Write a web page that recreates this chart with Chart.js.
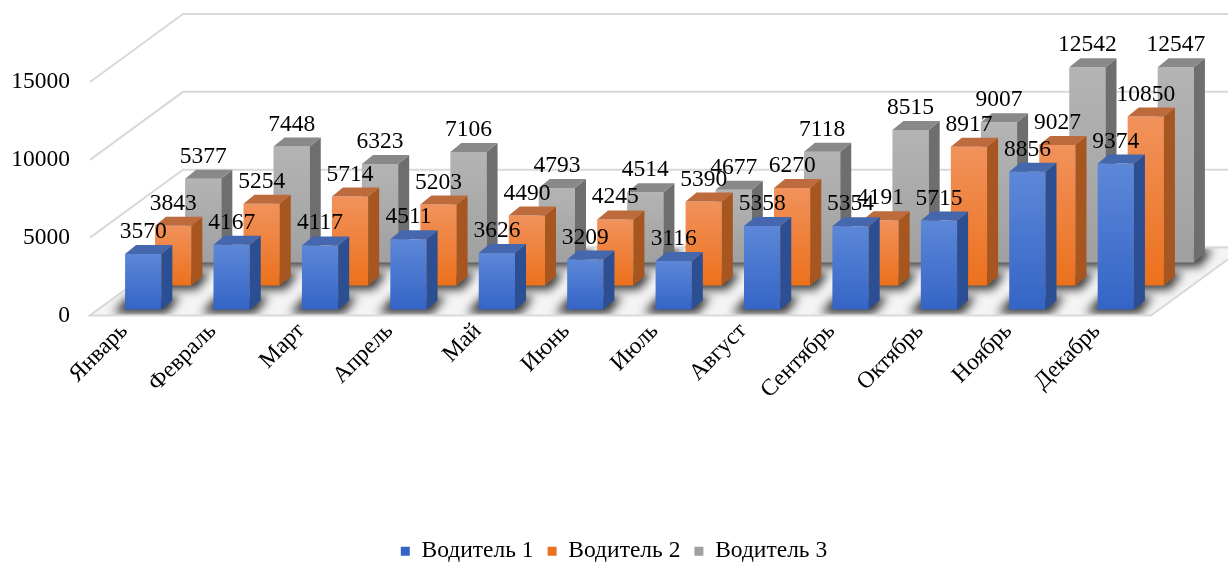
<!DOCTYPE html>
<html>
<head>
<meta charset="utf-8">
<script src="https://cdn.jsdelivr.net/npm/chart.js@4.4.1/dist/chart.umd.min.js"></script>
<style>
  html, body { margin: 0; padding: 0; background: #fff; }
  #wrap { width: 1228px; height: 563px; }
</style>
</head>
<body>
<div id="wrap"><canvas id="c"></canvas></div>
<script>
const months  = ['Январь', 'Февраль', 'Март', 'Апрель', 'Май', 'Июнь', 'Июль', 'Август', 'Сентябрь', 'Октябрь', 'Ноябрь', 'Декабрь']
const driver1 = [3570, 4167, 4117, 4511, 3626, 3209, 3116, 5358, 5354, 5715, 8856, 9374]
const driver2 = [3843, 5254, 5714, 5203, 4490, 4245, 5390, 6270, 4191, 8917, 9027, 10850]
const driver3 = [5377, 7448, 6323, 7106, 4793, 4514, 4677, 7118, 8515, 9007, 12542, 12547]
const seriesNames = ['Водитель 1', 'Водитель 2', 'Водитель 3']
const yTicks = [0, 5000, 10000, 15000]

// ── 3d look ─────────────────────────────────────────────────
const FACE = [
  { top: '#5d88d8', bot: '#3464c6', side: '#2c4e93', cap: '#4467ad', key: '#4472c4' },
  { top: '#f1925c', bot: '#ec711c', side: '#a7561f', cap: '#bd6a3c', key: '#ed7d31' },
  { top: '#b4b4b4', bot: '#a0a0a0', side: '#6e6e6e', cap: '#898989', key: '#a5a5a5' },
]
const SHIFT = [[9, -6], [39, -30], [69, -53]]   // row offset into depth
const DEPTH = [11, -9]                            // bar's own depth
const WALL  = [93, -68]                           // floor / wall depth
const SERIF = "'Liberation Serif', 'Times New Roman', serif"
const FS    = 23.5

function faceFill(i) {
  return c => {
    const f = FACE[i]
    if (c.type !== 'data' || !c.chart.chartArea) return f.key
    const ys  = c.chart.scales.y
    const top = ys.getPixelForValue(c.raw), bot = ys.getPixelForValue(0)
    const g = c.chart.ctx.createLinearGradient(0, top, 0, bot)
    g.addColorStop(0, f.top)
    g.addColorStop(1, f.bot)
    return g
  }
}

function poly(ctx, pts) {
  ctx.beginPath()
  ctx.moveTo(pts[0][0], pts[0][1])
  for (let k = 1; k < pts.length; k++) ctx.lineTo(pts[k][0], pts[k][1])
  ctx.closePath()
}

const room = {
  id: 'room',
  beforeDatasetsDraw(chart) {
    const { ctx, chartArea: a, scales: { y } } = chart
    const L = a.left, R = a.right, y0 = y.getPixelForValue(0)
    ctx.save()
    // back + side wall grid
    ctx.strokeStyle = '#d9d9d9'
    ctx.lineWidth = 2
    yTicks.forEach(v => {
      const py = y.getPixelForValue(v)
      ctx.beginPath()
      ctx.moveTo(L, py)
      ctx.lineTo(L + WALL[0], py + WALL[1])
      ctx.lineTo(chart.width, py + WALL[1])
      ctx.stroke()
    })
    // floor
    poly(ctx, [[L, y0], [R, y0], [R + WALL[0], y0 + WALL[1]], [L + WALL[0], y0 + WALL[1]]])
    ctx.fillStyle = '#f4f4f4'
    ctx.fill()
    ctx.save()
    ctx.clip()
    // soft shadows round the bar feet
    ctx.filter = 'blur(5px)'
    ctx.fillStyle = 'rgba(20,20,20,0.85)'
    chart.data.datasets.forEach((ds, i) => {
      const [sx, sy] = SHIFT[i]
      chart.getDatasetMeta(i).data.forEach(el => {
        const xl = el.x - el.width / 2 + sx, xr = el.x + el.width / 2 + sx, b = el.base + sy
        poly(ctx, [[xl - 12, b + 4], [xr + 6, b + 4], [xr + DEPTH[0] + 8, b + DEPTH[1] - 4], [xl + DEPTH[0] - 8, b + DEPTH[1] - 4]])
        ctx.fill()
      })
    })
    ctx.restore()
    poly(ctx, [[L, y0], [R, y0], [R + WALL[0], y0 + WALL[1]], [L + WALL[0], y0 + WALL[1]]])
    ctx.stroke()
    ctx.restore()
  },
  beforeDatasetDraw(chart, args) {
    const [sx, sy] = SHIFT[args.index]
    chart.ctx.save()
    chart.ctx.translate(sx, sy)
  },
  afterDatasetDraw(chart, args) {
    const ctx = chart.ctx
    const f = FACE[args.index]
    args.meta.data.forEach(el => {
      const xl = el.x - el.width / 2, xr = el.x + el.width / 2
      const [dx, dy] = DEPTH
      poly(ctx, [[xr, el.y], [xr + dx, el.y + dy], [xr + dx, el.base + dy], [xr, el.base]])
      ctx.fillStyle = f.side
      ctx.fill()
      poly(ctx, [[xl, el.y], [xr, el.y], [xr + dx, el.y + dy], [xl + dx, el.y + dy]])
      ctx.fillStyle = f.cap
      ctx.fill()
    })
    ctx.restore()
  },
  afterDatasetsDraw(chart) {
    const ctx = chart.ctx
    ctx.save()
    ctx.font = `${FS}px ${SERIF}`
    ctx.fillStyle = '#000'
    ctx.textAlign = 'center'
    ctx.textBaseline = 'alphabetic'
    chart.data.datasets.forEach((ds, i) => {
      const [sx, sy] = SHIFT[i]
      chart.getDatasetMeta(i).data.forEach((el, j) => {
        ctx.fillText(String(ds.data[j]), el.x + sx, el.y + sy - 16)
      })
    })
    ctx.restore()
  },
}

const series = [driver1, driver2, driver3]

new Chart(document.getElementById('c'), {
  type: 'bar',
  data: {
    labels: months,
    datasets: series.map((d, i) => ({
      label: seriesNames[i],
      data: d,
      backgroundColor: faceFill(i),
      borderWidth: 0,
      grouped: false,
      categoryPercentage: 1,
      barPercentage: 0.41,
      clip: false,
    })),
  },
  options: {
    responsive: true, maintainAspectRatio: false, animation: false,
    layout: { padding: { top: 82, left: 0, right: 0, bottom: -10 } },
    scales: {
      x: {
        grid: { display: false }, border: { display: false },
        ticks: { color: '#000', font: { size: FS, family: SERIF }, maxRotation: 45, minRotation: 45, padding: -6, labelOffset: -10 },
        afterFit: s => { s.height = 210 },
      },
      y: {
        min: 0, max: 15000,
        grid: { display: false, drawTicks: false }, border: { display: false },
        ticks: { color: '#000', font: { size: FS, family: SERIF }, stepSize: 5000, padding: 20, callback: v => String(v) },
        afterFit: s => { s.width = 90 },
      },
      pad: {
        position: 'right', display: true,
        grid: { display: false, drawTicks: false }, border: { display: false },
        ticks: { display: false },
        afterFit: s => { s.width = 77 },
      },
    },
    plugins: {
      legend: {
        position: 'bottom',
        labels: { color: '#000', font: { size: FS, family: SERIF }, boxWidth: 9, boxHeight: 9, padding: 14 },
      },
      tooltip: { enabled: false },
    },
  },
  plugins: [room],
})
</script>
</body>
</html>
